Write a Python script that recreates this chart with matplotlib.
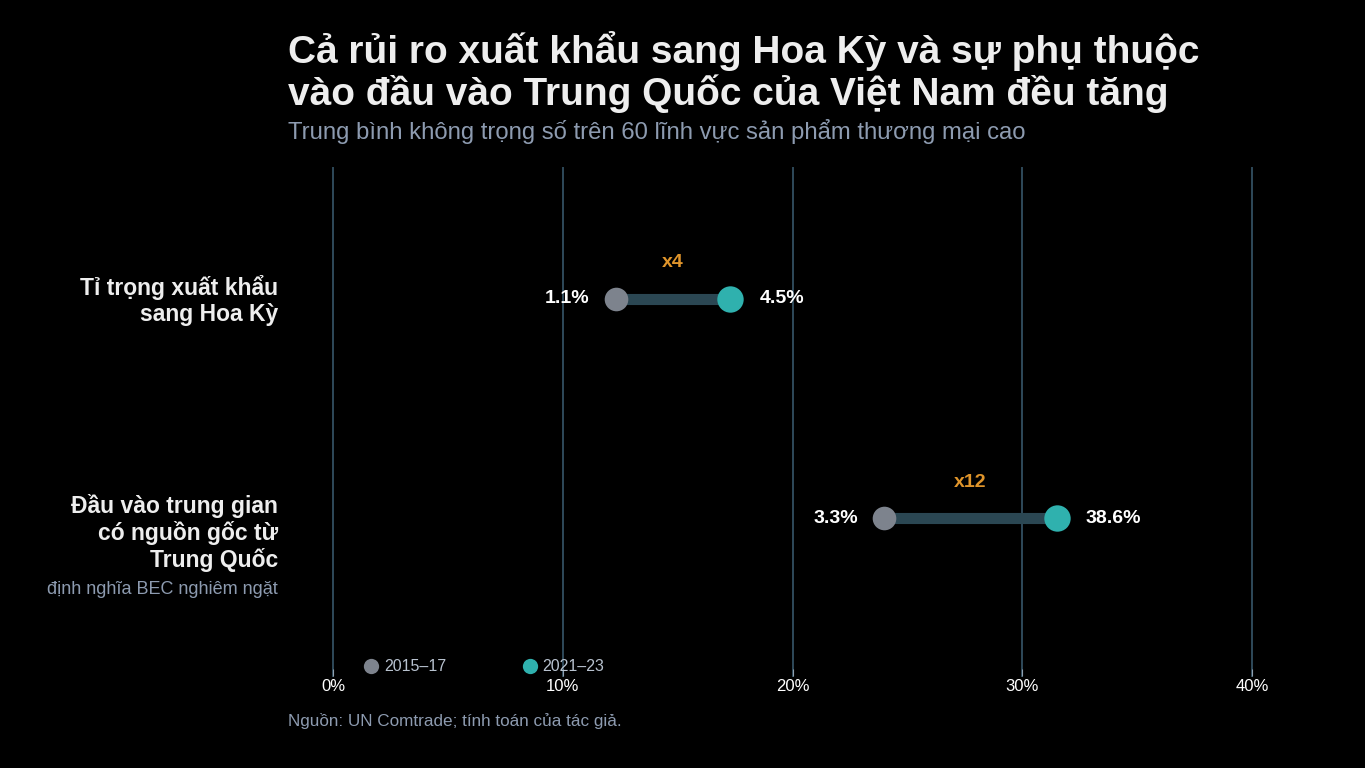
import matplotlib.pyplot as plt
from matplotlib.lines import Line2D

plt.rcParams['font.family'] = ['Liberation Sans', 'DejaVu Sans']

# --- Data ---
categories = ["Tỉ trọng xuất khẩu\nsang Hoa Kỳ",
              "Đầu vào trung gian\ncó nguồn gốc từ\nTrung Quốc"]
notes = ["", "định nghĩa BEC nghiêm ngặt"]
# dot positions as drawn on the 0-40% axis
pos_start = [12.3, 24.0]
pos_end = [17.3, 31.5]
# values printed beside the dots (%)
val_start = [1.1, 3.3]
val_end = [4.5, 38.6]
periods = ["2015–17", "2021–23"]
ticks = [0, 10, 20, 30, 40]

bg = "#000000"
c_old = "#7d838d"
c_new = "#2fb1ae"
c_bar = "#2b4753"
c_grid = "#2f4a5a"
c_mult = "#e0952b"
c_sub = "#8d9bb0"

fig = plt.figure(figsize=(13.65, 7.68), dpi=100, facecolor=bg)
W, H = 1365, 768
ax = fig.add_axes([333 / W, 1 - 676 / H, 919 / W, 508 / H])
ax.set_facecolor(bg)
ax.set_xlim(0, 40)
ax.set_ylim(1.721, -0.598)

for t in ticks:
    ax.axvline(t, color=c_grid, lw=1.4, zorder=0, clip_on=False)

for i in range(len(categories)):
    ax.plot([pos_start[i], pos_end[i]], [i, i], color=c_bar, lw=8,
            solid_capstyle='butt', zorder=1)
    ax.plot(pos_start[i], i, 'o', color=c_old, ms=17, mec='none', zorder=2)
    ax.plot(pos_end[i], i, 'o', color=c_new, ms=19, mec='none', zorder=2)
    ax.annotate(f"{val_start[i]}%", (pos_start[i], i), xytext=(-26, 0),
                textcoords='offset pixels', ha='right', va='center',
                color='white', fontsize=14, fontweight='bold')
    ax.annotate(f"{val_end[i]}%", (pos_end[i], i), xytext=(29, 0),
                textcoords='offset pixels', ha='left', va='center',
                color='white', fontsize=14, fontweight='bold')
    mult = round(val_end[i] / val_start[i])
    ax.annotate(f"x{mult}", ((pos_start[i] + pos_end[i]) / 2, i),
                xytext=(0, 36), textcoords='offset pixels', ha='center',
                va='center', color=c_mult, fontsize=14, fontweight='bold')
    ax.annotate(categories[i], (0, i), xycoords=('axes fraction', 'data'),
                xytext=(-55, 24), textcoords='offset pixels', ha='right',
                va='top', color='#eeeeee', fontsize=16.5, fontweight='bold',
                linespacing=1.15)
    if notes[i]:
        ax.annotate(notes[i], (0, i), xycoords=('axes fraction', 'data'),
                    xytext=(-55, -71), textcoords='offset pixels',
                    ha='right', va='center', color=c_sub, fontsize=13)

ax.set_xticks(ticks)
ax.set_xticklabels([f"{t}%" for t in ticks])
ax.set_yticks([])
ax.tick_params(axis='x', colors='white', labelsize=12, length=5,
               direction='in', pad=2, color='#8fa0b0')
for s in ax.spines.values():
    s.set_visible(False)

handles = [Line2D([], [], marker='o', ls='none', color=c_old, ms=11, mec='none'),
           Line2D([], [], marker='o', ls='none', color=c_new, ms=11, mec='none')]
leg = ax.legend(handles, periods, loc='center left', bbox_to_anchor=(0.017, 0.018),
                ncol=2, frameon=False, handletextpad=0.3, columnspacing=4.75,
                handlelength=1.0, fontsize=11.5)
for txt in leg.get_texts():
    txt.set_color('#b8c2cf')

fig.text(288 / W, 1 - 72 / H, "Cả rủi ro xuất khẩu sang Hoa Kỳ và sự phụ thuộc\n"
         "vào đầu vào Trung Quốc của Việt Nam đều tăng", ha='left', va='center',
         color='#eeeeee', fontsize=28, fontweight='bold', linespacing=1.08)
fig.text(288 / W, 1 - 131 / H, "Trung bình không trọng số trên 60 lĩnh vực sản phẩm thương mại cao",
         ha='left', va='center', color=c_sub, fontsize=17.2)
fig.text(288 / W, 1 - 721 / H, "Nguồn: UN Comtrade; tính toán của tác giả.",
         ha='left', va='center', color=c_sub, fontsize=12.3)

fig.savefig("out.png", dpi=100, facecolor=bg)
